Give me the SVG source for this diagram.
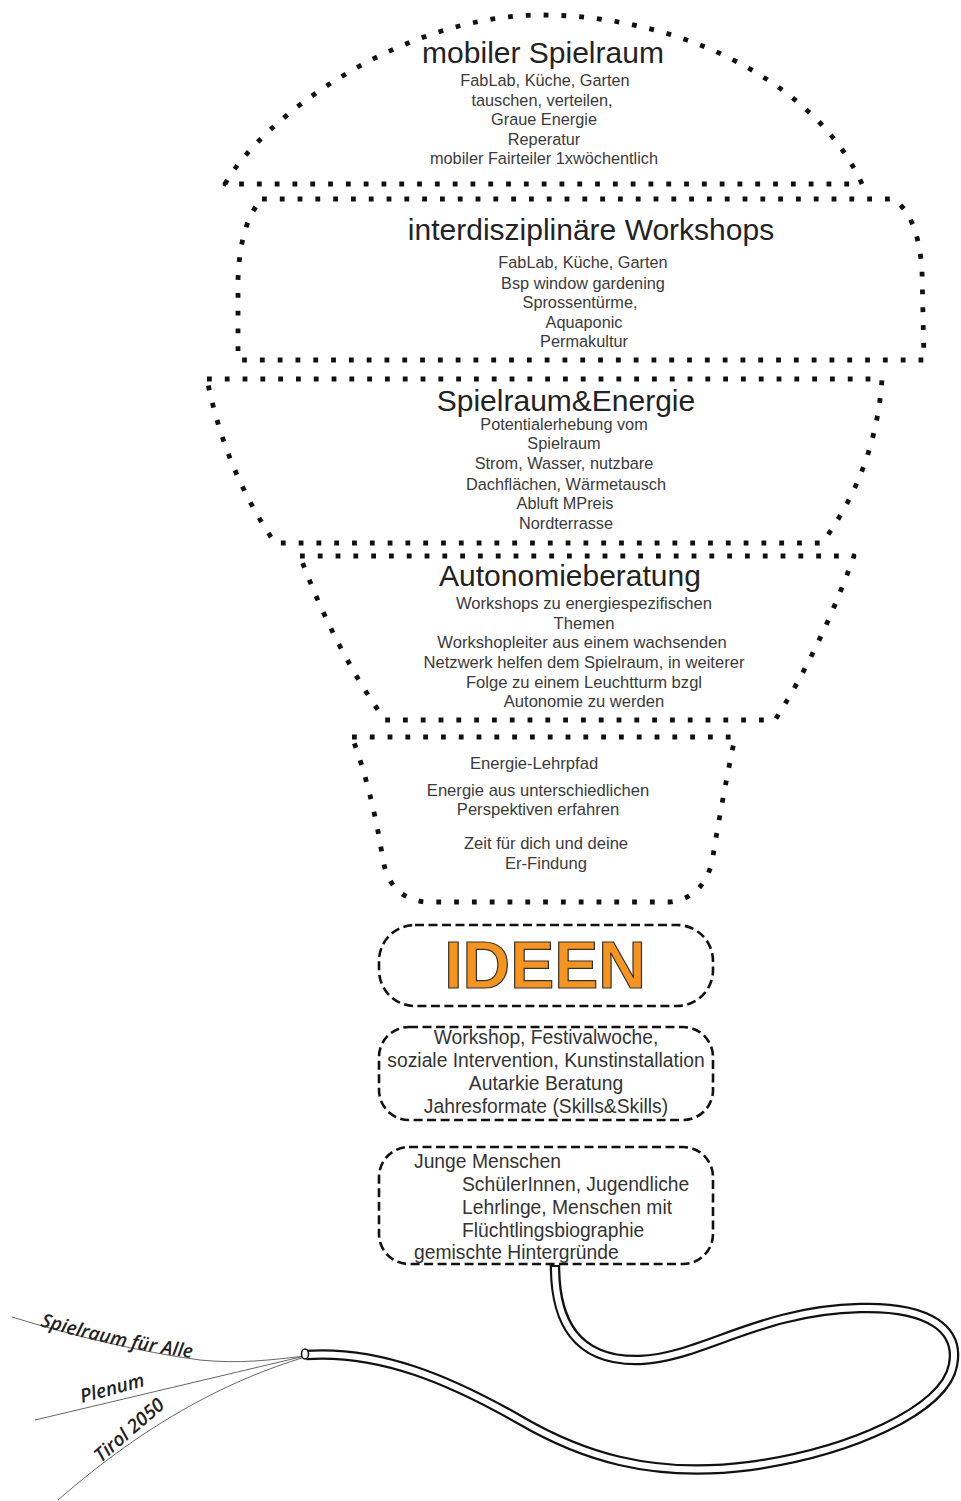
<svg xmlns="http://www.w3.org/2000/svg" width="961" height="1501" viewBox="0 0 961 1501">
<style>
.dot{fill:none;stroke:#111;stroke-width:4.8;stroke-dasharray:4.8 13;stroke-linejoin:round}
.dash{fill:none;stroke:#111;stroke-width:2.6;stroke-dasharray:9 4.5}
.t{font-family:"Liberation Sans",Arial,sans-serif;fill:#222;text-anchor:middle}
.title{font-size:30px}
.s{font-size:16.3px;fill:#3a3a3a}
.m{font-size:16.6px;fill:#3a3a3a}
.l{font-size:19.3px;fill:#333}
.lt{font-family:"Liberation Sans",Arial,sans-serif;font-size:19.3px;fill:#333}
.strand{fill:none;stroke:#666;stroke-width:1}
.lab{font-family:"Open Sans","Liberation Sans",sans-serif;font-style:italic;font-weight:600;font-size:19px;fill:#222}
</style>
<rect width="961" height="1501" fill="#fff"/>

<g id="node-mobiler-spielraum">
<path class="dot" d="M225,184 C262,118 400,16 540,15 C690,15 820,90 862,184 Z"/>
<text class="t title" x="543" y="63">mobiler Spielraum</text>
<text class="t s" x="545" y="86">FabLab, Küche, Garten</text>
<text class="t s" x="542" y="106">tauschen, verteilen,</text>
<text class="t s" x="544" y="125">Graue Energie</text>
<text class="t s" x="544" y="145">Reperatur</text>
<text class="t s" x="544" y="164">mobiler Fairteiler 1xwöchentlich</text>
</g>

<g id="node-interdisziplinaere-workshops">
<path class="dot" d="M262,199 L893,199 Q918,215 922,270 L924,360 L238,360 L238,280 Q240,222 262,199 Z"/>
<text class="t title" x="591" y="240">interdisziplinäre Workshops</text>
<text class="t s" x="583" y="268">FabLab, Küche, Garten</text>
<text class="t s" x="583" y="289">Bsp window gardening</text>
<text class="t s" x="580" y="308">Sprossentürme,</text>
<text class="t s" x="584" y="328">Aquaponic</text>
<text class="t s" x="584" y="347">Permakultur</text>
</g>

<g id="node-spielraum-energie">
<path class="dot" d="M207,379 L882,379 Q876,470 822,543 L275,543 Q225,470 207,379 Z"/>
<text class="t title" x="566" y="411">Spielraum&amp;Energie</text>
<text class="t s" x="564" y="430">Potentialerhebung vom</text>
<text class="t s" x="564" y="449">Spielraum</text>
<text class="t s" x="564" y="469">Strom, Wasser, nutzbare</text>
<text class="t s" x="566" y="490">Dachflächen, Wärmetausch</text>
<text class="t s" x="565" y="509">Abluft MPreis</text>
<text class="t s" x="566" y="529">Nordterrasse</text>
</g>

<g id="node-autonomieberatung">
<path class="dot" d="M300,556 L854,556 Q820,650 775,720 L385,720 Q335,650 300,556 Z"/>
<text class="t title" x="570" y="586">Autonomieberatung</text>
<text class="t m" x="584" y="609">Workshops zu energiespezifischen</text>
<text class="t m" x="584" y="629">Themen</text>
<text class="t m" x="582" y="648">Workshopleiter aus einem wachsenden</text>
<text class="t m" x="584" y="668">Netzwerk helfen dem Spielraum, in weiterer</text>
<text class="t m" x="584" y="688">Folge zu einem Leuchtturm bzgl</text>
<text class="t m" x="584" y="707">Autonomie zu werden</text>
</g>

<g id="node-energie-lehrpfad">
<path class="dot" d="M352,737 L735,737 Q722,800 712,862 Q703,898 670,902 L425,902 Q390,898 383,860 Q372,790 352,737 Z"/>
<text class="t m" x="534" y="769">Energie-Lehrpfad</text>
<text class="t m" x="538" y="796">Energie aus unterschiedlichen</text>
<text class="t m" x="538" y="815">Perspektiven erfahren</text>
<text class="t m" x="546" y="849">Zeit für dich und deine</text>
<text class="t m" x="546" y="869">Er-Findung</text>
</g>

<g id="node-ideen">
<rect class="dash" x="379" y="925" width="334" height="81" rx="36"/>
<text x="545" y="988" font-family="Liberation Sans,Arial,sans-serif" font-size="66" font-weight="bold" text-anchor="middle" fill="#F7941D" stroke="#333" stroke-width="1.2">IDEEN</text>
</g>

<g id="node-formate">
<rect class="dash" x="379" y="1027" width="334" height="93" rx="30"/>
<text class="t l" x="546" y="1044">Workshop, Festivalwoche,</text>
<text class="t l" x="546" y="1067">soziale Intervention, Kunstinstallation</text>
<text class="t l" x="546" y="1090">Autarkie Beratung</text>
<text class="t l" x="546" y="1113">Jahresformate (Skills&amp;Skills)</text>
</g>

<g id="node-zielgruppen">
<rect class="dash" x="379" y="1147" width="334" height="117" rx="30"/>
<text class="lt" x="414" y="1168">Junge Menschen</text>
<text class="lt" x="462" y="1191">SchülerInnen, Jugendliche</text>
<text class="lt" x="462" y="1214">Lehrlinge, Menschen mit</text>
<text class="lt" x="462" y="1237">Flüchtlingsbiographie</text>
<text class="lt" x="414" y="1259">gemischte Hintergründe</text>
</g>

<g id="connectors">
<path id="cord" d="M555,1265 C555,1320 575,1362 640,1360 C700,1358 760,1310 860,1308 C930,1306 960,1330 953,1365 C945,1410 850,1452 750,1466 C650,1479 580,1455 520,1420 C450,1380 380,1350 306,1355" fill="none" stroke="#111" stroke-width="10.5"/>
<path d="M555,1267 C555,1320 575,1362 640,1360 C700,1358 760,1310 860,1308 C930,1306 960,1330 953,1365 C945,1410 850,1452 750,1466 C650,1479 580,1455 520,1420 C450,1380 380,1350 306,1355" fill="none" stroke="#fff" stroke-width="6"/>
<path class="strand" d="M305,1356 C270,1360 240,1364 200,1360 C140,1352 70,1335 12,1317"/>
<path class="strand" d="M305,1356 L35,1420"/>
<path class="strand" d="M305,1357 C230,1380 150,1420 58,1500"/>
<ellipse cx="305" cy="1354" rx="3.5" ry="5" fill="#fff" stroke="#111" stroke-width="1.5"/>
</g>

<g id="labels">
<path id="p1" d="M40,1326 C90,1340 140,1352 200,1359" fill="none"/>
<text class="lab"><textPath href="#p1">Spielraum für Alle</textPath></text>
<text class="lab" transform="translate(82,1403) rotate(-15)">Plenum</text>
<text class="lab" transform="translate(101,1463) rotate(-41)">Tirol 2050</text>
</g>
</svg>
